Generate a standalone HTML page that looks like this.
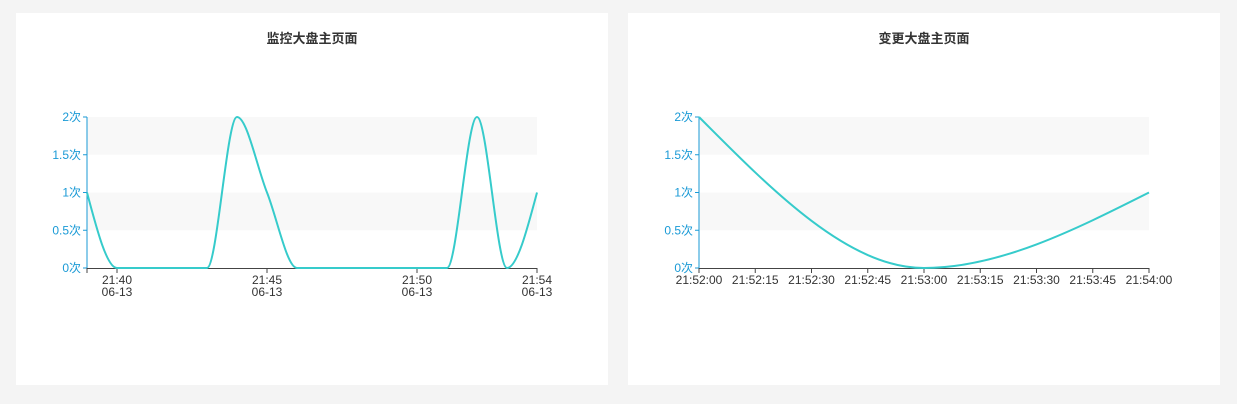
<!DOCTYPE html>
<html><head><meta charset="utf-8"><style>
body{margin:0;width:1237px;height:404px;background:#f4f4f4;overflow:hidden;font-family:"Liberation Sans","Noto Sans CJK SC",sans-serif}
.panel{position:absolute;top:13px;width:592px;height:372px;background:#fff}
svg{position:absolute;left:0;top:0}
</style></head><body>
<div class="panel" style="left:16px"><svg id="c1" width="592" height="372"></svg></div>
<div class="panel" style="left:628px"><svg id="c2" width="592" height="372"></svg></div>
<script>
const yTicks=[0,0.5,1,1.5,2];
const c1Title="监控大盘主页面";
const c1Minutes=[39,40,41,42,43,44,45,46,47,48,49,50,51,52,53,54];
const c1Values=[1,0,0,0,0,2,1,0,0,0,0,0,0,2,0,1];
const c1TickMinutes=[40,45,50,54];
const c1TickLabels=["21:40","21:45","21:50","21:54"];
const c2Title="变更大盘主页面";
const c2Seconds=[0,60,120];
const c2Values=[2,0,1];
const c2TickSeconds=[0,15,30,45,60,75,90,105,120];
const c2TickLabels=["21:52:00","21:52:15","21:52:30","21:52:45","21:53:00","21:53:15","21:53:30","21:53:45","21:54:00"];
const NS="http://www.w3.org/2000/svg";
function mk(p,t,a){const e=document.createElementNS(NS,t);for(const k in a)e.setAttribute(k,a[k]);p.appendChild(e);return e;}
function monotone(pts){
 const n=pts.length,d=[],m=new Array(n);
 for(let i=0;i<n-1;i++)d.push((pts[i+1][1]-pts[i][1])/(pts[i+1][0]-pts[i][0]));
 for(let i=1;i<n-1;i++)m[i]=d[i-1]*d[i]<=0?0:2/(1/d[i-1]+1/d[i]);
 m[0]=n>2?(3*d[0]-m[1])/2:d[0];
 m[n-1]=n>2?(3*d[n-2]-m[n-2])/2:d[n-2];
 if(d[0]*m[0]<0)m[0]=0; if(d[n-2]*m[n-1]<0)m[n-1]=0;
 let s="M"+pts[0][0]+","+pts[0][1];
 for(let i=0;i<n-1;i++){const h=(pts[i+1][0]-pts[i][0])/3;
  s+=" C"+(pts[i][0]+h)+","+(pts[i][1]+h*m[i])+" "+(pts[i+1][0]-h)+","+(pts[i+1][1]-h*m[i+1])+" "+pts[i+1][0]+","+pts[i+1][1];}
 return s;
}
function draw(svg,title,xs,vals,ticks,labels,x0,x1,dmin,dmax,twoLine){
 const Y=v=>255-v*75.5, X=v=>x0+(v-dmin)/(dmax-dmin)*(x1-x0);
 const t=mk(svg,"text",{x:296,y:30,"text-anchor":"middle","font-size":"13","font-weight":"bold",fill:"#333"});t.textContent=title;
 
 [[2,1.5],[1,0.5]].forEach(b=>{const r=mk(svg,"rect",{x:x0,y:Y(b[0]),width:x1-x0,height:Y(b[1])-Y(b[0]),fill:"#f8f8f8"});
  });
 const ax=mk(svg,"line",{x1:x0,y1:Y(2),x2:x0,y2:Y(0),stroke:"#1a9ad6"});
 
 yTicks.forEach(v=>{mk(svg,"line",{x1:x0-4,x2:x0,y1:Y(v),y2:Y(v),stroke:"#1a9ad6"});
  const l=mk(svg,"text",{x:x0-6,y:Y(v)+4,"text-anchor":"end","font-size":"12",fill:"#1a9ad6"});l.textContent=v+"次";
  });
 const xa=mk(svg,"line",{x1:x0,y1:Y(0)+.5,x2:x1,y2:Y(0)+.5,stroke:"#444"});
 
 if(twoLine)mk(svg,"line",{x1:x0,x2:x0,y1:Y(0),y2:Y(0)+5,stroke:"#444"});
 ticks.forEach((v,i)=>{const x=X(v);mk(svg,"line",{x1:x,x2:x,y1:Y(0),y2:Y(0)+5,stroke:"#444"});
  const l=mk(svg,"text",{x:x,y:Y(0)+16,"text-anchor":"middle","font-size":"12",fill:"#333"});
  
  if(twoLine){mk(l,"tspan",{x:x}).textContent=labels[i];mk(l,"tspan",{x:x,dy:12}).textContent="06-13";}
  else l.textContent=labels[i];});
 const p=mk(svg,"path",{d:monotone(xs.map((v,i)=>[X(v),Y(vals[i])])),fill:"none",stroke:"#36cbcb","stroke-width":2});
 
}
draw(document.getElementById("c1"),c1Title,c1Minutes,c1Values,c1TickMinutes,c1TickLabels,71,521,39,54,true);
draw(document.getElementById("c2"),c2Title,c2Seconds,c2Values,c2TickSeconds,c2TickLabels,71,521,0,120,false);
</script>
</body></html>
